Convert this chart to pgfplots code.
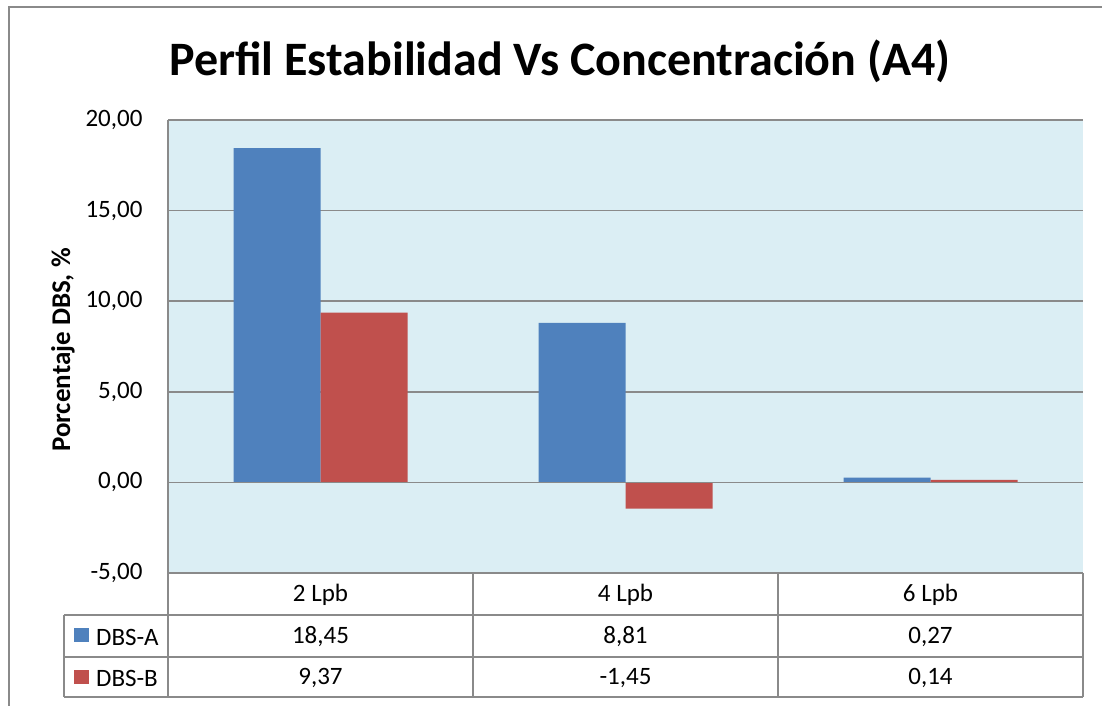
\documentclass[border=0pt]{standalone}
\usepackage{pgfplots}
\pgfplotsset{compat=1.18}
\usepackage{fontspec}
\setmainfont{Carlito}

\definecolor{dbsA}{HTML}{4F81BD}
\definecolor{dbsB}{HTML}{C0504D}
\definecolor{plotbg}{HTML}{DBEEF4}
\definecolor{rule}{HTML}{8A8A8A}

\newcommand{\ticksize}{\fontsize{25bp}{30bp}\selectfont}

\begin{document}
\begin{tikzpicture}
\useasboundingbox (0,0) rectangle (1102bp,-706bp);

% chart frame
\draw[rule, line width=1.6bp] (9bp,-706bp) -- (9bp,-7bp) -- (1102bp,-7bp);

% title
\node[font=\bfseries\fontsize{48bp}{56bp}\selectfont] at (560bp,-61bp)
  {Perfil Estabilidad Vs Concentración (A4)};

\begin{axis}[
  at={(168bp,-573bp)}, anchor=south west,
  scale only axis, width=915bp, height=453bp,
  xmin=-0.5, xmax=2.5, ymin=-5, ymax=20,
  xtick=\empty, ytick={-5,0,5,10,15,20},
  axis line style={draw=none},
  major tick length=0pt,
  ymajorgrids, grid style={rule, line width=1.6bp},
  axis background/.style={fill=plotbg},
  yticklabel style={font=\ticksize, xshift=-22bp,
    /pgf/number format/.cd, fixed, fixed zerofill, precision=2, use comma,
    assume math mode=true},
  ybar, bar width=87bp,
]
% DBS-A
\addplot[fill=dbsA, draw=none, bar shift=-43.5bp]
  coordinates {(0,18.45) (1,8.81) (2,0.27)};
% DBS-B
\addplot[fill=dbsB, draw=none, bar shift=43.5bp]
  coordinates {(0,9.37) (1,-1.45) (2,0.14)};
% horizontal axis at zero, over the bars
\draw[rule, line width=1.6bp] (axis cs:-0.5,0) -- (axis cs:2.5,0);
\end{axis}

% vertical axis line
\draw[rule, line width=1.6bp] (168bp,-120bp) -- (168bp,-697bp);

% y-axis title
\node[font=\bfseries\fontsize{27bp}{32bp}\selectfont, rotate=90] at (63bp,-350bp)
  {Porcentaje DBS, \%};

% data table grid
\draw[rule, line width=1.6bp] (168bp,-573bp) -- (1083bp,-573bp);
\foreach \yy in {615,657,697}
  \draw[rule, line width=1.6bp] (64bp,-\yy bp) -- (1083bp,-\yy bp);
\draw[rule, line width=1.6bp] (64bp,-615bp) -- (64bp,-697bp);
\foreach \xx in {473,778,1083}
  \draw[rule, line width=1.6bp] (\xx bp,-573bp) -- (\xx bp,-697bp);

% data table contents
\begin{scope}[every node/.style={font=\ticksize, inner sep=0pt}]
  \node at (320.5bp,-595bp) {2 Lpb};
  \node at (625.5bp,-595bp) {4 Lpb};
  \node at (930.5bp,-595bp) {6 Lpb};
  \node at (320.5bp,-637bp) {18,45};
  \node at (625.5bp,-637bp) {8,81};
  \node at (930.5bp,-637bp) {0,27};
  \node at (320.5bp,-678bp) {9,37};
  \node at (625.5bp,-678bp) {-1,45};
  \node at (930.5bp,-678bp) {0,14};
  \fill[dbsA] (74bp,-628bp) rectangle (89bp,-642bp);
  \fill[dbsB] (74bp,-670bp) rectangle (89bp,-684bp);
  \node[anchor=west] at (96bp,-637bp) {DBS-A};
  \node[anchor=west] at (96bp,-678bp) {DBS-B};
\end{scope}
\end{tikzpicture}
\end{document}
